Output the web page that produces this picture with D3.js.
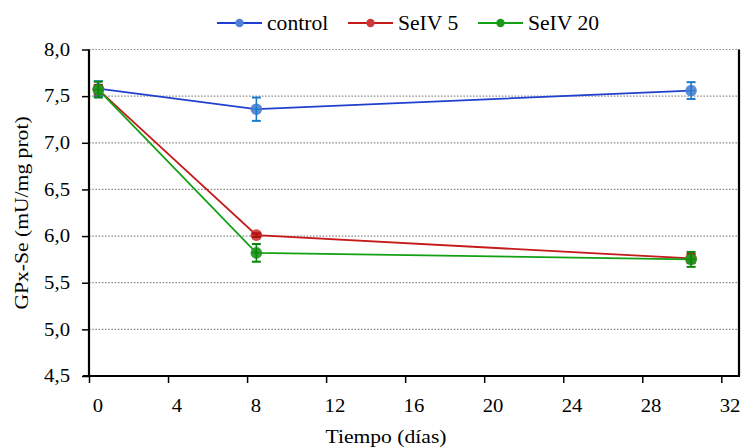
<!DOCTYPE html>
<html>
<head>
<meta charset="utf-8">
<script src="https://cdn.jsdelivr.net/npm/d3@7"></script>
<style>
  body { margin: 0; background: #fff; }
  svg { display: block; }
  svg text { font-family: "Liberation Serif", serif !important; fill: #000; }
</style>
</head>
<body>
<svg id="chart" width="745" height="448"></svg>
<script>
// Sampling days and GPx-Se activity (mU/mg prot), mean and error per group
const days = [0, 8, 30];
const seriesNames = ["control", "SeIV 5", "SeIV 20"];
const controlValues = [7.58, 7.36, 7.56];
const controlErrors = [0.08, 0.125, 0.09];
const seiv5Values = [7.57, 6.01, 5.76];
const seiv5Errors = [0.05, 0.02, 0.05];
const seiv20Values = [7.57, 5.82, 5.75];
const seiv20Errors = [0.085, 0.095, 0.08];
const xTicks = [0, 4, 8, 12, 16, 20, 24, 28, 32];
const yTicks = [4.5, 5.0, 5.5, 6.0, 6.5, 7.0, 7.5, 8.0];

const palette = {
  "control": { line: "#1f3fd0", fill: "#4f82d6", err: "#1c7ccc" },
  "SeIV 5":  { line: "#c41a1a", fill: "#cc3a3a", err: "#b01010" },
  "SeIV 20": { line: "#14a014", fill: "#1c9a1c", err: "#0a850a" }
};

const series = [
  { name: seriesNames[0], values: controlValues, errors: controlErrors },
  { name: seriesNames[1], values: seiv5Values, errors: seiv5Errors },
  { name: seriesNames[2], values: seiv20Values, errors: seiv20Errors }
];

const FONT = "'Liberation Serif', serif";
const svg = d3.select("#chart");
const frameLeft = 89, frameRight = 739, tickShift = -9.3;

const x = d3.scaleLinear().domain([0, 32]).range([98.3, 730.6]);
const y = d3.scaleLinear().domain([4.5, 8]).range([376, 49.5]);

// dotted horizontal gridlines
svg.append("g").selectAll("line")
  .data(yTicks.filter(d => d > 4.5))
  .join("line")
  .attr("x1", frameLeft).attr("x2", frameRight)
  .attr("y1", d => y(d)).attr("y2", d => y(d))
  .attr("stroke", "#8c8c8c").attr("stroke-width", 1.2)
  .attr("stroke-dasharray", "1.6,1.6");

// y axis
const yAxis = svg.append("g")
  .attr("transform", `translate(${frameLeft},0)`)
  .call(d3.axisLeft(y).tickValues(yTicks).tickSize(7).tickPadding(12)
    .tickFormat(d => d3.format(".1f")(d).replace(".", ",")));
yAxis.attr("font-family", FONT);
yAxis.select(".domain").remove();
yAxis.selectAll(".tick line").attr("stroke", "#000").attr("stroke-width", 1.5);
yAxis.selectAll(".tick text").attr("font-size", 18).attr("class", "stretch-t");

// x axis
const xAxis = svg.append("g")
  .attr("transform", `translate(0,${y(4.5)})`)
  .call(d3.axisBottom(x).tickValues(xTicks).tickSize(7).tickPadding(16));
xAxis.attr("font-family", FONT);
xAxis.select(".domain").remove();
xAxis.selectAll(".tick line").attr("x1", tickShift).attr("x2", tickShift)
  .attr("stroke", "#000").attr("stroke-width", 1.5);
xAxis.selectAll(".tick text").attr("font-size", 18).attr("dx", -1).attr("class", "stretch-t");

// frame: left, bottom and right borders
svg.append("line").attr("x1", frameLeft).attr("x2", frameLeft).attr("y1", y(8)).attr("y2", y(4.5) + 1)
  .attr("stroke", "#000").attr("stroke-width", 2.2);
svg.append("line").attr("x1", frameLeft - 6).attr("x2", frameRight + 1).attr("y1", y(4.5)).attr("y2", y(4.5))
  .attr("stroke", "#000").attr("stroke-width", 2.2);
svg.append("line").attr("x1", frameRight).attr("x2", frameRight).attr("y1", y(8)).attr("y2", y(4.5))
  .attr("stroke", "#000").attr("stroke-width", 2.2);

// series lines, markers and error bars
const line = d3.line().x(d => x(d.day)).y(d => y(d.value));
const r = 5.8, cap = 4.5;
series.forEach(s => {
  const pts = days.map((d, i) => ({ day: d, value: s.values[i], err: s.errors[i] }));
  const c = palette[s.name];
  const g = svg.append("g");
  g.append("path").datum(pts).attr("d", line)
    .attr("fill", "none").attr("stroke", c.line).attr("stroke-width", 1.8);
  const p = g.selectAll("g.pt").data(pts).join("g").attr("class", "pt");
  p.append("circle").attr("cx", d => x(d.day)).attr("cy", d => y(d.value)).attr("r", r)
    .attr("fill", c.fill).attr("fill-opacity", 0.92);
  p.append("line").attr("x1", d => x(d.day) - r + 1).attr("x2", d => x(d.day) + r - 1)
    .attr("y1", d => y(d.value)).attr("y2", d => y(d.value))
    .attr("stroke", c.err).attr("stroke-width", 1).attr("stroke-opacity", 0.8);
  p.append("line").attr("x1", d => x(d.day)).attr("x2", d => x(d.day))
    .attr("y1", d => y(d.value + d.err)).attr("y2", d => y(d.value - d.err))
    .attr("stroke", c.err).attr("stroke-width", 1.6);
  [1, -1].forEach(sg => {
    p.append("line").attr("x1", d => x(d.day) - cap).attr("x2", d => x(d.day) + cap)
      .attr("y1", d => y(d.value + sg * d.err)).attr("y2", d => y(d.value + sg * d.err))
      .attr("stroke", c.err).attr("stroke-width", 2);
  });
});

// legend
const legendItems = [
  { name: seriesNames[0], x0: 217 },
  { name: seriesNames[1], x0: 348 },
  { name: seriesNames[2], x0: 478 }
];
const lg = svg.append("g").attr("font-family", FONT);
legendItems.forEach(it => {
  const c = palette[it.name];
  lg.append("line").attr("x1", it.x0).attr("x2", it.x0 + 45).attr("y1", 23).attr("y2", 23)
    .attr("stroke", c.line).attr("stroke-width", 1.8);
  lg.append("circle").attr("cx", it.x0 + 22.5).attr("cy", 23).attr("r", 4.2).attr("fill", c.fill);
  lg.append("text").attr("x", it.x0 + 50).attr("y", 23).attr("dy", "0.35em")
    .attr("font-size", 20).attr("class", "stretch-l").text(it.name);
});

// axis titles
svg.append("text").attr("x", 386).attr("y", 443).attr("text-anchor", "middle")
  .attr("font-family", FONT).attr("font-size", 18).attr("class", "stretch-a").text("Tiempo (días)");
svg.append("text").attr("transform", "translate(28,213) rotate(-90)").attr("text-anchor", "middle")
  .attr("font-family", FONT).attr("font-size", 18).attr("class", "stretch-a").text("GPx-Se (mU/mg prot)");

// widen the serif glyphs slightly
const widen = { "stretch-t": 1.15, "stretch-l": 1.08, "stretch-a": 1.2 };
Object.entries(widen).forEach(([cls, k]) => {
  svg.selectAll("text." + cls).each(function () {
    const w = this.getComputedTextLength();
    d3.select(this).attr("textLength", w * k).attr("lengthAdjust", "spacingAndGlyphs");
  });
});
</script>
</body>
</html>
